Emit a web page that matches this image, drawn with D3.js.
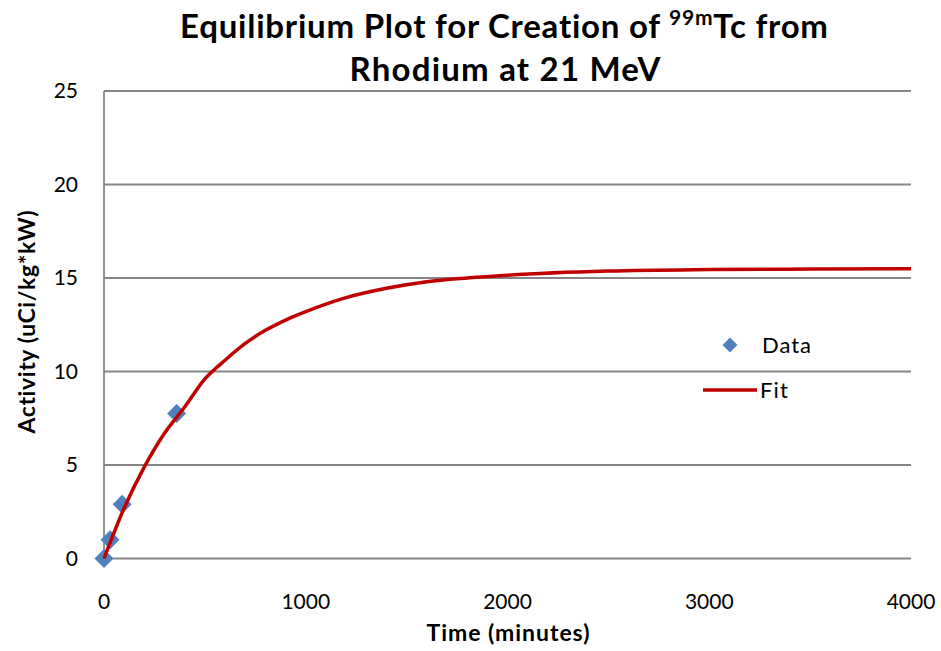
<!DOCTYPE html>
<html>
<head>
<meta charset="utf-8">
<script src="https://cdn.jsdelivr.net/npm/d3@7"></script>
<style>
  html, body { margin: 0; padding: 0; background: #fff; }
  svg { display: block; }
  text { font-family: Lato, "Open Sans", "DejaVu Sans", sans-serif; fill: #000; font-variant-ligatures: none; }
</style>
</head>
<body>
<svg id="chart" width="941" height="651"></svg>
<script>
// Measured activity (minutes, uCi/kg*kW)
const dataTime = [0, 30, 90, 360];
const dataActivity = [0, 1.0, 2.9, 7.75];

// Saturation fit curve
const fitTime = [0, 100, 200, 300, 400, 500, 600, 700, 800, 900, 1000, 1200, 1400, 1600, 1800, 2000, 2500, 3000, 3500, 4000];
const fitActivity = [0, 2.7, 4.9, 6.7, 8.1, 9.6, 10.6, 11.5, 12.2, 12.75, 13.2, 13.95, 14.45, 14.8, 15.0, 15.15, 15.37, 15.45, 15.48, 15.5];

const xTicks = [0, 1000, 2000, 3000, 4000];
const yTicks = [0, 5, 10, 15, 20, 25];

const svg = d3.select("#chart");
const plotLeft = 104, plotRight = 911, plotTop = 91, plotBottom = 558.5;

const x = d3.scaleLinear().domain([0, 4000]).range([plotLeft, plotRight]);
const y = d3.scaleLinear().domain([0, 25]).range([plotBottom, plotTop]);

const grid = "#868686";

// Horizontal gridlines
svg.append("g").selectAll("line").data(yTicks).join("line")
  .attr("x1", plotLeft).attr("x2", plotRight)
  .attr("y1", d => y(d)).attr("y2", d => y(d))
  .attr("stroke", grid).attr("stroke-width", 1.8);

// Vertical axis line
svg.append("line")
  .attr("x1", plotLeft).attr("x2", plotLeft).attr("y1", plotTop).attr("y2", plotBottom)
  .attr("stroke", grid).attr("stroke-width", 1.8);

// Tick labels
svg.append("g").selectAll("text").data(yTicks).join("text")
  .attr("x", 78).attr("y", d => y(d)).attr("dy", "0.35em")
  .attr("text-anchor", "end").attr("font-size", 21)
  .text(d => d);

svg.append("g").selectAll("text").data(xTicks).join("text")
  .attr("x", d => x(d)).attr("y", 602).attr("dy", "0.35em")
  .attr("text-anchor", "middle").attr("font-size", 21)
  .text(d => d);

// Axis titles
svg.append("text")
  .attr("x", 508).attr("y", 633).attr("dy", "0.35em")
  .attr("text-anchor", "middle").attr("font-size", 23).attr("font-weight", "bold")
  .attr("textLength", 163).attr("lengthAdjust", "spacing")
  .text("Time (minutes)");

svg.append("text")
  .attr("transform", "translate(27,322) rotate(-90)")
  .attr("dy", "0.35em")
  .attr("text-anchor", "middle").attr("font-size", 23).attr("font-weight", "bold")
  .attr("textLength", 223).attr("lengthAdjust", "spacing")
  .text("Activity (uCi/kg*kW)");

// Chart title
const t1 = svg.append("text")
  .attr("x", 504).attr("y", 38)
  .attr("text-anchor", "middle").attr("font-size", 33).attr("font-weight", "bold")
  .attr("textLength", 648).attr("lengthAdjust", "spacing");
t1.append("tspan").text("Equilibrium Plot for Creation of ");
t1.append("tspan").attr("font-size", 21).attr("dy", -13).text("99m");
t1.append("tspan").attr("dy", 13).text("Tc from");

svg.append("text")
  .attr("x", 505).attr("y", 81)
  .attr("text-anchor", "middle").attr("font-size", 33).attr("font-weight", "bold")
  .attr("textLength", 311).attr("lengthAdjust", "spacing")
  .text("Rhodium at 21 MeV");

// Data markers
const diamond = d3.symbol().type(d3.symbolDiamond2).size(230);
const blue = "#4F81BD";
svg.append("g").selectAll("path").data(dataTime.map((t, i) => [t, dataActivity[i]])).join("path")
  .attr("transform", d => `translate(${x(d[0])},${y(d[1])})`)
  .attr("d", diamond)
  .attr("fill", blue);

// Fit line
const red = "#C00000";
const line = d3.line().x(d => x(d[0])).y(d => y(d[1])).curve(d3.curveMonotoneX);
svg.append("path")
  .datum(fitTime.map((t, i) => [t, fitActivity[i]]))
  .attr("d", line)
  .attr("fill", "none").attr("stroke", red).attr("stroke-width", 3.5)
  .attr("stroke-linejoin", "round");

// Legend
const lg = svg.append("g");
lg.append("path").attr("transform", "translate(730,345)").attr("d", d3.symbol().type(d3.symbolDiamond2).size(140)).attr("fill", blue);
lg.append("text").attr("x", 762).attr("y", 345).attr("dy", "0.35em").attr("font-size", 22)
  .attr("textLength", 49).attr("lengthAdjust", "spacing").text("Data");
lg.append("line").attr("x1", 703).attr("x2", 757).attr("y1", 390).attr("y2", 390)
  .attr("stroke", red).attr("stroke-width", 3.5);
lg.append("text").attr("x", 760).attr("y", 390).attr("dy", "0.35em").attr("font-size", 22)
  .attr("textLength", 28).attr("lengthAdjust", "spacing").text("Fit");
</script>
</body>
</html>
